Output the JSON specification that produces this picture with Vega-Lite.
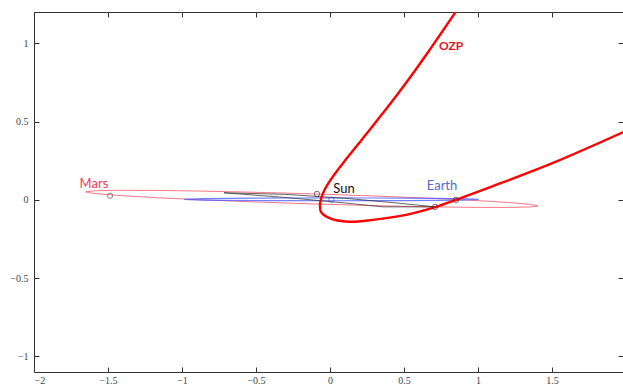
{
  "$schema": "https://vega.github.io/schema/vega-lite/v6.json",
  "width": 589,
  "height": 360,
  "padding": {"left": 34, "top": 12, "right": 0, "bottom": 13},
  "autosize": {"type": "none"},
  "background": "white",
  "config": {
    "view": {"stroke": null},
    "axis": {
      "grid": false,
      "domainColor": "#333",
      "tickColor": "#333",
      "labelFont": "Liberation Serif",
      "labelFontSize": 10,
      "labelColor": "#444",
      "tickSize": -5,
      "title": null
    }
  },
  "datasets": {
    "ozp": [
      {"i": 0, "x": 0.946, "y": 1.334},
      {"i": 1, "x": 0.8486, "y": 1.1997},
      {"i": 2, "x": 0.752, "y": 1.0657},
      {"i": 3, "x": 0.6588, "y": 0.9381},
      {"i": 4, "x": 0.5628, "y": 0.8105},
      {"i": 5, "x": 0.4628, "y": 0.6828},
      {"i": 6, "x": 0.3743, "y": 0.5743},
      {"i": 7, "x": 0.2838, "y": 0.4659},
      {"i": 8, "x": 0.1973, "y": 0.3638},
      {"i": 9, "x": 0.1054, "y": 0.2553},
      {"i": 10, "x": 0.0527, "y": 0.1914},
      {"i": 11, "x": 0.0041, "y": 0.1276},
      {"i": 12, "x": -0.0365, "y": 0.0638},
      {"i": 13, "x": -0.0581, "y": 0.0128},
      {"i": 14, "x": -0.0676, "y": -0.0319},
      {"i": 15, "x": -0.061, "y": -0.077},
      {"i": 16, "x": -0.007, "y": -0.115},
      {"i": 17, "x": 0.128, "y": -0.14},
      {"i": 18, "x": 0.291, "y": -0.128},
      {"i": 19, "x": 0.514, "y": -0.096},
      {"i": 20, "x": 0.716, "y": -0.045},
      {"i": 21, "x": 0.851, "y": 0.0},
      {"i": 22, "x": 1.088, "y": 0.083},
      {"i": 23, "x": 1.507, "y": 0.236},
      {"i": 24, "x": 1.99, "y": 0.436}
    ],
    "mars": [
      {"i": 0, "x": 1.405, "y": -0.0387},
      {"i": 1, "x": 1.353, "y": -0.0289},
      {"i": 2, "x": 1.2, "y": -0.0167},
      {"i": 3, "x": 0.958, "y": -0.003},
      {"i": 4, "x": 0.642, "y": 0.0114},
      {"i": 5, "x": 0.273, "y": 0.0253},
      {"i": 6, "x": -0.122, "y": 0.038},
      {"i": 7, "x": -0.517, "y": 0.0485},
      {"i": 8, "x": -0.886, "y": 0.0561},
      {"i": 9, "x": -1.202, "y": 0.0602},
      {"i": 10, "x": -1.444, "y": 0.0607},
      {"i": 11, "x": -1.597, "y": 0.0575},
      {"i": 12, "x": -1.649, "y": 0.0507},
      {"i": 13, "x": -1.597, "y": 0.0409},
      {"i": 14, "x": -1.444, "y": 0.0287},
      {"i": 15, "x": -1.202, "y": 0.015},
      {"i": 16, "x": -0.886, "y": 0.0006},
      {"i": 17, "x": -0.517, "y": -0.0133},
      {"i": 18, "x": -0.122, "y": -0.026},
      {"i": 19, "x": 0.273, "y": -0.0365},
      {"i": 20, "x": 0.642, "y": -0.0441},
      {"i": 21, "x": 0.958, "y": -0.0482},
      {"i": 22, "x": 1.2, "y": -0.0487},
      {"i": 23, "x": 1.353, "y": -0.0455},
      {"i": 24, "x": 1.405, "y": -0.0387}
    ],
    "earth": [
      {"i": 0, "x": 1.005, "y": 0.003},
      {"i": 1, "x": 0.971, "y": 0.0053},
      {"i": 2, "x": 0.872, "y": 0.0075},
      {"i": 3, "x": 0.714, "y": 0.0094},
      {"i": 4, "x": 0.508, "y": 0.0108},
      {"i": 5, "x": 0.268, "y": 0.0117},
      {"i": 6, "x": 0.01, "y": 0.012},
      {"i": 7, "x": -0.248, "y": 0.0117},
      {"i": 8, "x": -0.488, "y": 0.0108},
      {"i": 9, "x": -0.694, "y": 0.0094},
      {"i": 10, "x": -0.852, "y": 0.0075},
      {"i": 11, "x": -0.951, "y": 0.0053},
      {"i": 12, "x": -0.985, "y": 0.003},
      {"i": 13, "x": -0.951, "y": 0.0007},
      {"i": 14, "x": -0.852, "y": -0.0015},
      {"i": 15, "x": -0.694, "y": -0.0034},
      {"i": 16, "x": -0.488, "y": -0.0048},
      {"i": 17, "x": -0.248, "y": -0.0057},
      {"i": 18, "x": 0.01, "y": -0.006},
      {"i": 19, "x": 0.268, "y": -0.0057},
      {"i": 20, "x": 0.508, "y": -0.0048},
      {"i": 21, "x": 0.714, "y": -0.0034},
      {"i": 22, "x": 0.872, "y": -0.0015},
      {"i": 23, "x": 0.971, "y": 0.0007},
      {"i": 24, "x": 1.005, "y": 0.003}
    ],
    "inner": [
      {"i": 0, "x": -0.716, "y": 0.045},
      {"i": 1, "x": -0.3, "y": 0.035},
      {"i": 2, "x": 0.1, "y": 0.01},
      {"i": 3, "x": 0.45, "y": -0.02},
      {"i": 4, "x": 0.71, "y": -0.045},
      {"i": 5, "x": 0.36, "y": -0.045},
      {"i": 6, "x": 0.1, "y": -0.02},
      {"i": 7, "x": -0.3, "y": 0.015},
      {"i": 8, "x": -0.716, "y": 0.045}
    ],
    "pts": [
      {"x": -1.486, "y": 0.026, "c": "#555555"},
      {"x": -0.378, "y": 0.027, "c": "#999999"},
      {"x": -0.088, "y": 0.038, "c": "#333333"},
      {"x": 0.01, "y": 0.0, "c": "#3344ee"},
      {"x": 0.71, "y": -0.045, "c": "#333333"},
      {"x": 0.851, "y": 0.0, "c": "#222222"}
    ],
    "labels": [
      {"x": -1.595, "y": 0.102, "t": "Mars", "c": "#f0405a"},
      {"x": 0.095, "y": 0.072, "t": "Sun", "c": "#111111"},
      {"x": 0.757, "y": 0.09, "t": "Earth", "c": "#5566d8"}
    ],
    "boldlabels": [
      {"x": 0.818, "y": 0.985, "t": "OZP"}
    ]
  },
  "layer": [
    {
      "data": {"name": "mars"},
      "mark": {"type": "line", "stroke": "#ff5566", "strokeWidth": 1, "opacity": 0.8},
      "encoding": {
        "x": {"field": "x", "type": "quantitative", "scale": {"domain": [-2, 1.98], "nice": false, "zero": false},
              "axis": {"orient": "top", "labels": false, "values": [-2, -1.5, -1, -0.5, 0, 0.5, 1, 1.5]}},
        "y": {"field": "y", "type": "quantitative", "scale": {"domain": [-1.1, 1.2], "nice": false, "zero": false},
              "axis": {"orient": "right", "labels": false, "domain": false, "values": [-1, -0.5, 0, 0.5, 1]}},
        "order": {"field": "i"}
      }
    },
    {
      "data": {"name": "earth"},
      "mark": {"type": "line", "stroke": "#4455ff", "strokeWidth": 1.2, "opacity": 0.75},
      "encoding": {
        "x": {"field": "x", "type": "quantitative", "scale": {"domain": [-2, 1.98], "nice": false, "zero": false}, "axis": null},
        "y": {"field": "y", "type": "quantitative", "scale": {"domain": [-1.1, 1.2], "nice": false, "zero": false}, "axis": null},
        "order": {"field": "i"}
      }
    },
    {
      "data": {"name": "inner"},
      "mark": {"type": "line", "stroke": "#333333", "strokeWidth": 0.9, "opacity": 0.85},
      "encoding": {
        "x": {"field": "x", "type": "quantitative", "scale": {"domain": [-2, 1.98], "nice": false, "zero": false}, "axis": null},
        "y": {"field": "y", "type": "quantitative", "scale": {"domain": [-1.1, 1.2], "nice": false, "zero": false}, "axis": null},
        "order": {"field": "i"}
      }
    },
    {
      "data": {"name": "ozp"},
      "mark": {"type": "line", "stroke": "#ff0000", "strokeWidth": 2.4, "interpolate": "catmull-rom", "clip": true},
      "encoding": {
        "x": {"field": "x", "type": "quantitative", "scale": {"domain": [-2, 1.98], "nice": false, "zero": false},
              "axis": {"orient": "bottom", "values": [-2, -1.5, -1, -0.5, 0, 0.5, 1, 1.5], "format": "~g", "labelPadding": 8}},
        "y": {"field": "y", "type": "quantitative", "scale": {"domain": [-1.1, 1.2], "nice": false, "zero": false},
              "axis": {"orient": "left", "values": [-1, -0.5, 0, 0.5, 1], "format": "~g", "labelPadding": 11}},
        "order": {"field": "i"}
      }
    },
    {
      "data": {"name": "pts"},
      "mark": {"type": "point", "filled": false, "size": 28, "strokeWidth": 1},
      "encoding": {
        "x": {"field": "x", "type": "quantitative", "scale": {"domain": [-2, 1.98], "nice": false, "zero": false}, "axis": null},
        "y": {"field": "y", "type": "quantitative", "scale": {"domain": [-1.1, 1.2], "nice": false, "zero": false}, "axis": null},
        "color": {"field": "c", "type": "nominal", "scale": null}
      }
    },
    {
      "data": {"name": "labels"},
      "mark": {"type": "text", "font": "Lato", "fontSize": 13, "align": "center", "baseline": "middle"},
      "encoding": {
        "x": {"field": "x", "type": "quantitative", "scale": {"domain": [-2, 1.98], "nice": false, "zero": false}, "axis": null},
        "y": {"field": "y", "type": "quantitative", "scale": {"domain": [-1.1, 1.2], "nice": false, "zero": false}, "axis": null},
        "text": {"field": "t"},
        "color": {"field": "c", "type": "nominal", "scale": null}
      }
    },
    {
      "data": {"name": "boldlabels"},
      "mark": {"type": "text", "font": "Lato", "fontSize": 12, "fontWeight": "bold", "color": "#e8101e", "align": "center", "baseline": "middle"},
      "encoding": {
        "x": {"field": "x", "type": "quantitative", "scale": {"domain": [-2, 1.98], "nice": false, "zero": false}, "axis": null},
        "y": {"field": "y", "type": "quantitative", "scale": {"domain": [-1.1, 1.2], "nice": false, "zero": false}, "axis": null},
        "text": {"field": "t"}
      }
    }
  ],
  "resolve": {"axis": {"x": "independent", "y": "independent"}}
}
